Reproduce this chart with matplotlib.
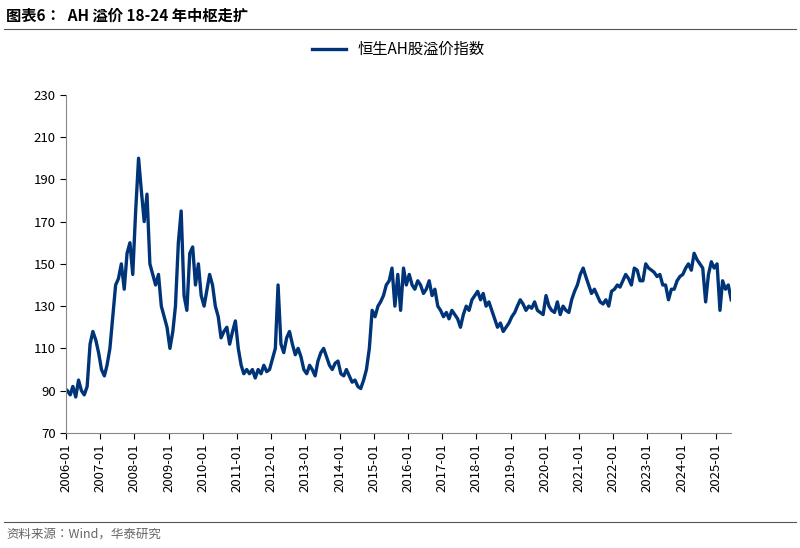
import matplotlib
matplotlib.use("Agg")
import matplotlib.pyplot as plt
from matplotlib import font_manager as fm
import pandas as pd

cjk = [f for f in fm.fontManager.ttflist if 'CJK' in f.name]
cjk_sc = [f.name for f in cjk if 'SC' in f.name] or [f.name for f in cjk]
plt.rcParams['font.family'] = 'sans-serif'
plt.rcParams['font.sans-serif'] = cjk_sc[:1] + ['Noto Sans CJK SC', 'Noto Sans CJK JP', 'DejaVu Sans']
if not cjk:
    for p in fm.findSystemFonts():
        if 'CJK' in p or 'cjk' in p.lower():
            fm.fontManager.addfont(p)
    cjk = [f.name for f in fm.fontManager.ttflist if 'CJK' in f.name]
    plt.rcParams['font.sans-serif'] = cjk[:1] + ['DejaVu Sans']

start = "2006-01"
values = [
 90,88,92,87,95,90,88,92,112,118,114,108,
 100,97,102,110,125,140,143,150,138,155,160,145,
 175,200,185,170,183,150,145,140,145,130,125,120,
 110,118,130,160,175,135,128,155,158,140,150,135,
 130,138,145,140,130,125,115,118,120,112,118,123,
 110,102,98,100,98,100,96,100,98,102,99,100,
 105,110,140,112,108,115,118,112,107,110,106,100,
 98,102,100,97,104,108,110,106,102,100,103,104,
 98,97,100,97,94,95,92,91,95,100,110,128,
 125,130,132,135,140,142,148,130,145,128,148,140,
 145,140,138,142,140,136,138,142,135,138,130,128,
 125,127,124,128,126,124,120,126,130,128,133,135,
 137,133,136,130,132,128,124,120,122,118,120,122,
 125,127,130,133,131,128,130,129,132,128,127,126,
 135,130,128,127,132,126,130,128,127,133,137,140,
 145,148,144,140,136,138,135,132,131,133,130,137,
 138,140,139,142,145,143,140,148,147,142,142,150,
 148,147,146,144,145,140,140,133,138,138,142,144,
 145,148,150,147,155,152,150,148,132,145,151,148,
 150,128,142,138,140,133,
]
dates = pd.date_range(start, periods=len(values), freq="MS") + pd.Timedelta(days=14)
tick_years = list(range(2006, 2026))
tick_labels = [f"{y}-01" for y in tick_years]

fig = plt.figure(figsize=(8, 5.48), dpi=100)
ax = fig.add_axes([0.0825, 0.21, 0.8315, 0.617])
col = "#003478"
ax.plot(dates, values, color=col, lw=2.4, label="恒生AH股溢价指数")
ax.set_ylim(70, 230)
ax.set_yticks(range(70, 231, 20))
ax.set_xlim(pd.Timestamp("2006-01-01"), pd.Timestamp("2025-06-15"))
ax.set_xticks([pd.Timestamp(f"{y}-01-01") for y in tick_years])
ax.set_xticklabels(tick_labels, rotation=90, fontsize=9.5)
ax.tick_params(axis='y', labelsize=9.5, length=4, direction='out')
ax.tick_params(axis='x', length=4, direction='out')
for s in ['top', 'right']:
    ax.spines[s].set_visible(False)
ax.spines['left'].set_color('#888888')
ax.spines['bottom'].set_color('#888888')
ax.legend(loc='upper center', bbox_to_anchor=(0.5, 1.2), frameon=False, fontsize=11, handlelength=2.2)

fig.text(0.008, 0.972, "图表6：  AH 溢价 18-24 年中枢走扩", fontsize=11, fontweight='bold', va='center')
fig.add_artist(plt.Line2D([0.005, 0.995], [0.947, 0.947], color='#555555', lw=0.8))
fig.add_artist(plt.Line2D([0.005, 0.995], [0.048, 0.048], color='#555555', lw=0.8))
fig.text(0.008, 0.025, "资料来源：Wind，华泰研究", fontsize=9, color='#666666', va='center')
fig.savefig("out.png", dpi=100)
